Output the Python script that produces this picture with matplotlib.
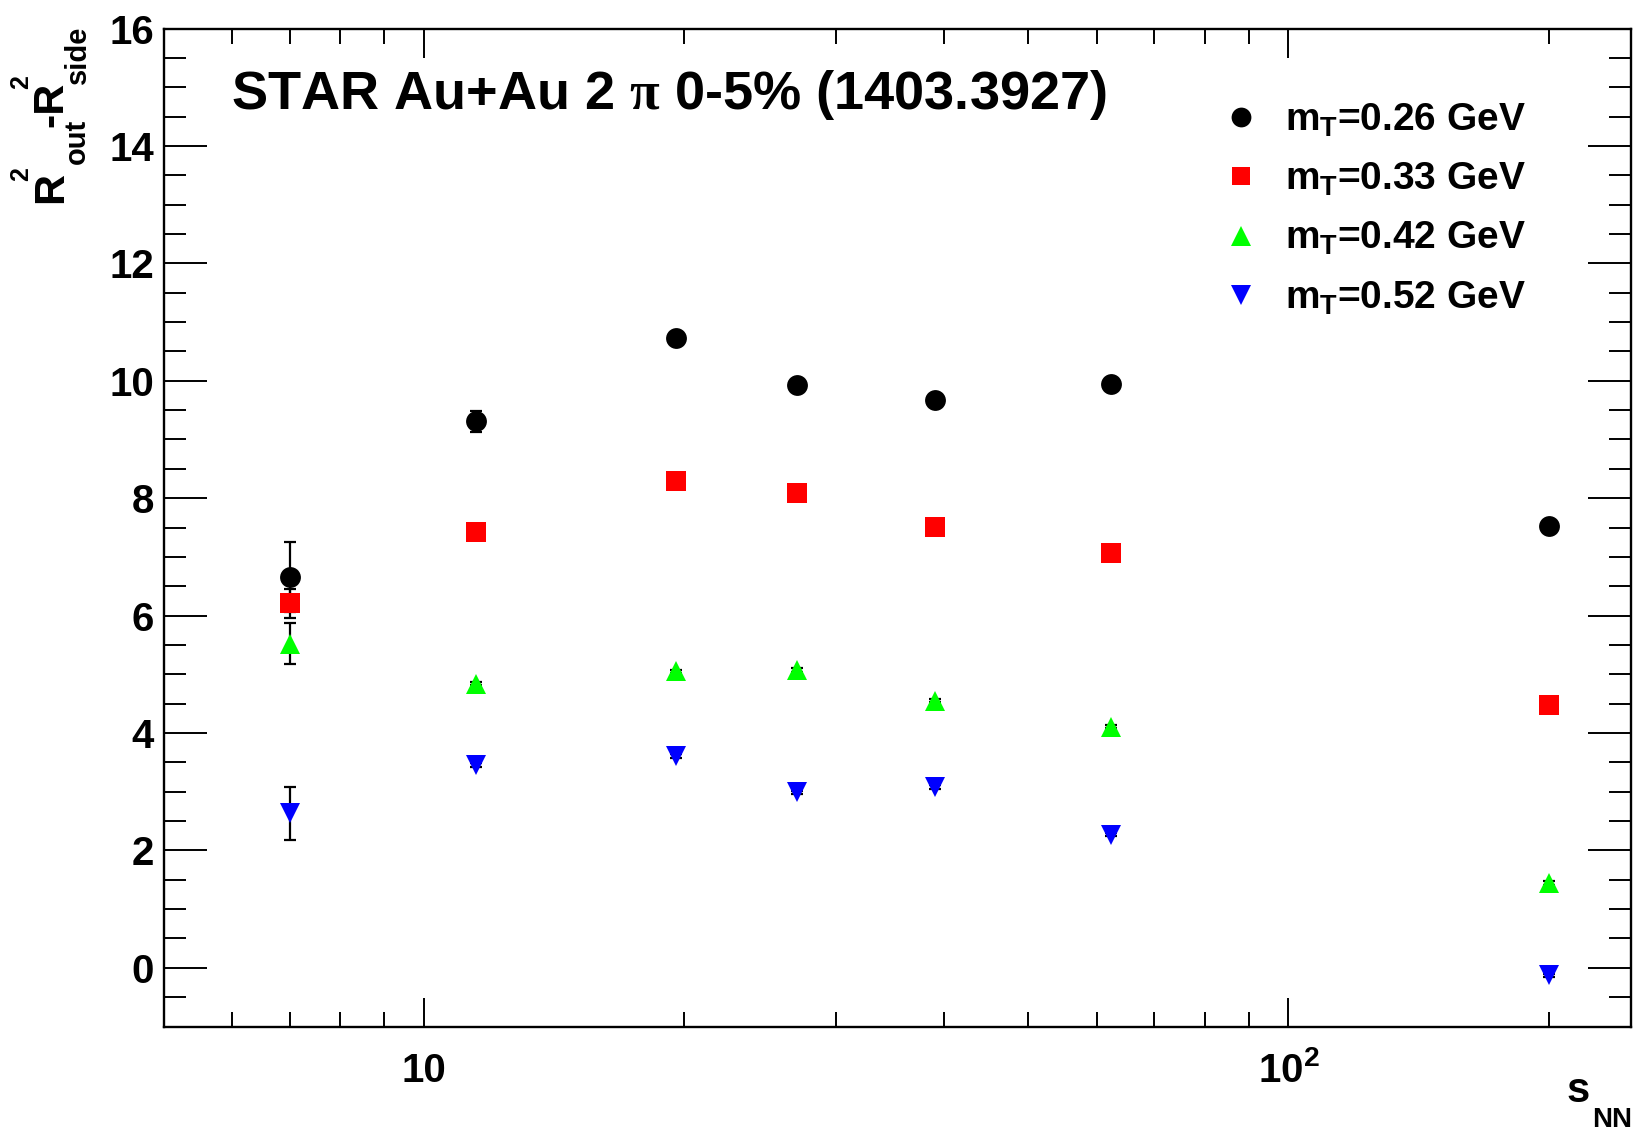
import matplotlib
matplotlib.use("Agg")
import matplotlib.pyplot as plt
from matplotlib.ticker import FixedLocator, FixedFormatter, NullFormatter, MultipleLocator

plt.rcParams['font.family'] = ['Liberation Sans', 'DejaVu Sans']
plt.rcParams['font.weight'] = 'bold'
plt.rcParams['mathtext.fontset'] = 'custom'
plt.rcParams['mathtext.rm'] = 'Liberation Sans:bold'
plt.rcParams['mathtext.it'] = 'Liberation Sans:bold'
plt.rcParams['mathtext.bf'] = 'Liberation Sans:bold'
plt.rcParams['mathtext.cal'] = 'Liberation Serif'

# ---- data ----
energies = [7.0, 11.5, 19.6, 27.0, 39.0, 62.4, 200.0]
mt_labels = [r'$m_{T}$=0.26 GeV', r'$m_{T}$=0.33 GeV', r'$m_{T}$=0.42 GeV', r'$m_{T}$=0.52 GeV']
diff_026 = [6.66, 9.31, 10.72, 9.92, 9.67, 9.95, 7.53]
err_026 = [0.60, 0.18, 0.08, 0.08, 0.08, 0.08, 0.08]
diff_033 = [6.21, 7.42, 8.30, 8.08, 7.51, 7.07, 4.48]
err_033 = [0.25, 0.08, 0.08, 0.08, 0.08, 0.08, 0.08]
diff_042 = [5.52, 4.84, 5.05, 5.07, 4.55, 4.11, 1.44]
err_042 = [0.35, 0.03, 0.03, 0.03, 0.03, 0.03, 0.03]
diff_052 = [2.63, 3.45, 3.61, 2.99, 3.08, 2.27, -0.13]
err_052 = [0.45, 0.03, 0.03, 0.03, 0.03, 0.03, 0.03]
x_major = [10, 100]
x_major_labels = ['10', r'$10^{2}$']

W, H = 1639, 1132


def fx(px):
    return px / W


def fy(py):
    return 1 - py / H


fig = plt.figure(figsize=(W / 100, H / 100), dpi=100)
L, R, T, B = 163.5, 1631, 28.5, 1026.5
ax = fig.add_axes([L / W, 1 - B / H, (R - L) / W, (B - T) / H])

series = [
    (diff_026, err_026, 'o', '#000000', 15),
    (diff_033, err_033, 's', '#ff0000', 14.2),
    (diff_042, err_042, '^', '#00ff00', 14.5),
    (diff_052, err_052, 'v', '#0000ff', 14.5),
]
handles = []
for (vals, errs, mk, col, ms), lab in zip(series, mt_labels):
    ax.errorbar(energies, vals, yerr=errs, fmt='none', ecolor='black',
                elinewidth=1.6, capsize=4.5, capthick=1.6, zorder=2)
    h, = ax.plot(energies, vals, linestyle='none', marker=mk, color=col,
                 markersize=ms, markeredgewidth=0, zorder=3, label=lab)
    handles.append(h)

ax.set_xscale('log')
ax.set_xlim(5.0, 249)
ax.set_ylim(-1, 16)

ax.xaxis.set_major_locator(FixedLocator(x_major))
ax.xaxis.set_major_formatter(FixedFormatter(x_major_labels))
ax.xaxis.set_minor_locator(FixedLocator([5, 6, 7, 8, 9, 20, 30, 40, 50, 60, 70, 80, 90, 200]))
ax.xaxis.set_minor_formatter(NullFormatter())
ax.yaxis.set_major_locator(MultipleLocator(2))
ax.yaxis.set_minor_locator(MultipleLocator(0.5))

for s in ax.spines.values():
    s.set_linewidth(1.7)
ax.tick_params(axis='both', which='both', direction='in', top=True, right=True, width=1.4)
ax.tick_params(axis='y', which='major', length=31, labelsize=29, pad=7)
ax.tick_params(axis='y', which='minor', length=16)
ax.tick_params(axis='x', which='major', length=21, labelsize=29, pad=40)
ax.tick_params(axis='x', which='minor', length=11)
for lab in ax.get_xticklabels():
    lab.set_verticalalignment('baseline')

# y-axis title, ROOT-like stacked super/subscripts (rotated, reading upward)
ykw = dict(rotation=90, rotation_mode='anchor', ha='left', va='baseline', fontweight='bold')
fig.text(fx(62), fy(203), 'R', fontsize=31, **ykw)
fig.text(fx(28), fy(181), '2', fontsize=18, **ykw)
fig.text(fx(85), fy(164), 'out', fontsize=21, **ykw)
fig.text(fx(62), fy(127), '-R', fontsize=31, **ykw)
fig.text(fx(28), fy(89), '2', fontsize=18, **ykw)
fig.text(fx(86), fy(84), 'side', fontsize=21, **ykw)

# x-axis title
fig.text(fx(1566), fy(1102), 's', ha='left', va='baseline', fontsize=30, fontweight='bold')
fig.text(fx(1632), fy(1127), 'NN', ha='right', va='baseline', fontsize=20, fontweight='bold')

# title
fig.text(fx(231), fy(109), r'STAR Au+Au 2 $\mathcal{\pi}$ 0-5% (1403.3927)',
         ha='left', va='baseline', fontsize=39, fontweight='bold')

leg = ax.legend(handles=handles, loc='upper left',
                bbox_to_anchor=(fx(1222), fy(102)), bbox_transform=fig.transFigure,
                frameon=False, fontsize=28, handlelength=0.96, handletextpad=0.66,
                labelspacing=0.56, borderpad=0, borderaxespad=0, markerscale=0.95)

fig.savefig('out.png', dpi=100)
